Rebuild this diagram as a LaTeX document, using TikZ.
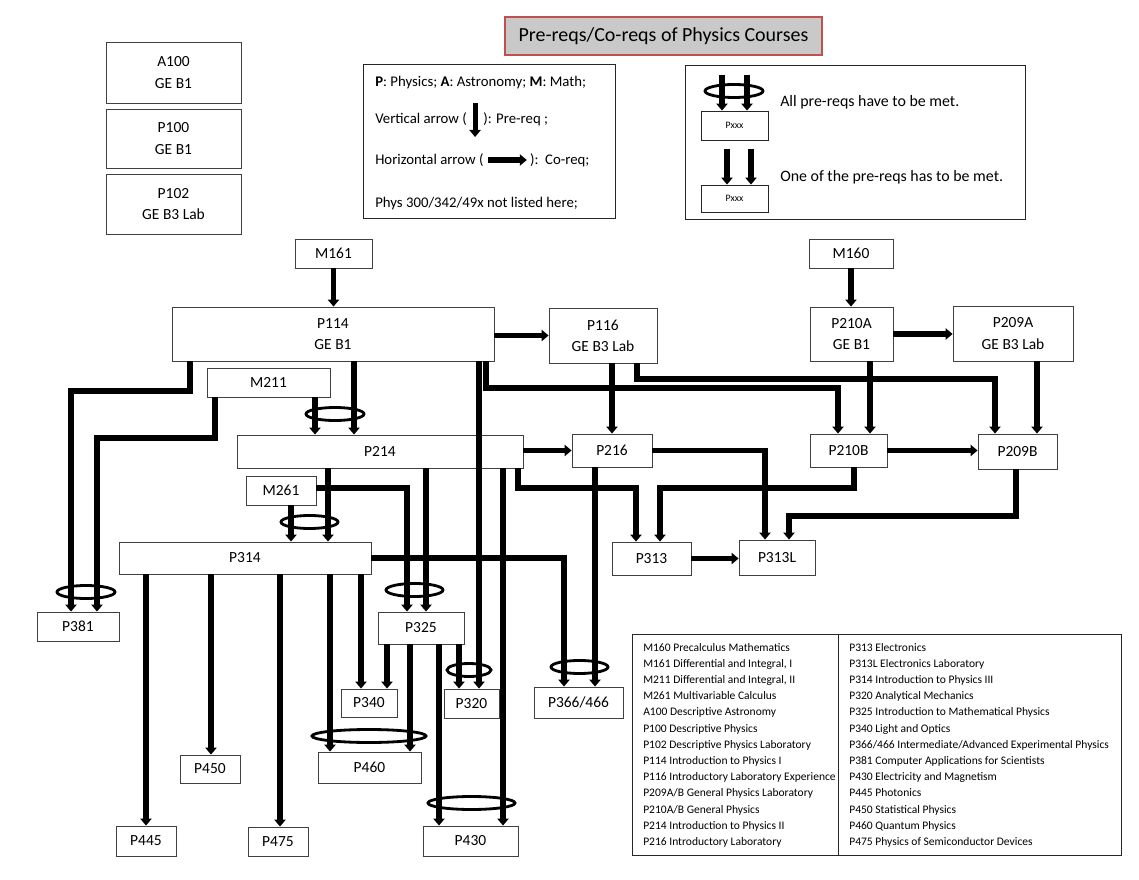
\documentclass[tikz,border=0pt]{standalone}
\usepackage{fontspec}
\setmainfont{Carlito}
\usepackage{tikz}
\usetikzlibrary{arrows.meta,positioning,fit,calc}

\definecolor{titlegray}{RGB}{201,201,201}
\definecolor{titlered}{RGB}{192,80,77}
\newcommand\coursefont{\fontsize{11}{15}\selectfont}
\newcommand\keyfont{\fontsize{10.5}{13}\selectfont}
\newcommand\rulefont{\fontsize{11.3}{13}\selectfont}
\newcommand\listfont{\fontsize{8.2}{11.5}\selectfont}
\newcommand\tinyfont{\fontsize{7}{8}\selectfont}

\begin{document}
\begin{tikzpicture}[
  x=0.025cm, y=-0.025cm,
  wh/.style 2 args={minimum width=#1*0.025cm, minimum height=#2*0.025cm},
  course/.style={draw=black!75, line width=0.6pt, fill=white, align=center,
    font=\coursefont, inner sep=0pt},
  keybox/.style={draw=black!85, line width=0.6pt, fill=white, inner sep=0pt},
  titlebox/.style={draw=titlered, line width=0.8pt, fill=titlegray,
    font=\fontsize{14.2}{16}\selectfont, inner sep=0pt},
  keytxt/.style={anchor=west, font=\keyfont, inner sep=0pt},
  listtxt/.style={anchor=north west, align=left, font=\listfont, inner sep=0pt},
  ar/.style={-{Triangle[length=5pt,width=8pt]}, line width=3.6pt},
  grp/.style={line width=2pt}
]
\fill[white] (0,0) rectangle (1139,880);
\useasboundingbox (0,0) rectangle (1139,880);

% title and keys
\node[titlebox, wh={317}{38}] (title) at (663.5,36) {Pre-reqs/Co-reqs of Physics Courses};

\node[keybox, fit={(363,64)(615,218)}] (keyleft) {};
\node[keytxt] (keyp) at (375,83) {\textbf{P}: Physics; \textbf{A}: Astronomy; \textbf{M}: Math;};
\node[keytxt] (keyv1) at (375,119) {Vertical arrow (};
\node[keytxt, right=0.4cm of keyv1] (keyv2) {): Pre-req ;};
\node[keytxt] (keyh1) at (375,160) {Horizontal arrow (};
\node[keytxt, right=1.15cm of keyh1] (keyh2) {):\ \ Co-req;};
\node[keytxt] (keyphys) at (375,204) {Phys 300/342/49x not listed here;};
\coordinate (vmid) at ($(keyv1.east)!0.5!(keyv2.west)$);
\draw[ar] ($(vmid)+(0,-16)$) -- ($(vmid)+(0,18)$);
\draw[ar] ($(keyh1.east)+(4,0)$) -- ($(keyh2.west)+(-3,0)$);

\node[keybox, fit={(685,65)(1025,219)}] (keyright) {};
\node[keybox, font=\tinyfont, wh={67}{29}] (pxall) at (734.5,125.5) {Pxxx};
\node[keybox, font=\tinyfont, wh={67}{27}] (pxone) at (734.5,198.5) {Pxxx};
\coordinate (alla) at (722,75);
\coordinate (allb) at (747,75);
\coordinate (onea) at (727,149);
\coordinate (oneb) at (751,149);
\draw[ar] (alla) -- (pxall.north -| alla);
\draw[ar] (allb) -- (pxall.north -| allb);
\draw[ar] (onea) -- (pxone.north -| onea);
\draw[ar] (oneb) -- (pxone.north -| oneb);
\draw[grp] (734,91) ellipse [x radius=29, y radius=6.5];
\node[keytxt, font=\rulefont] (alltxt) at (780,102) {All pre-reqs have to be met.};
\node[keytxt, font=\rulefont] (onetxt) at (780,177) {One of the pre-reqs has to be met.};

% courses
\node[course, wh={135}{61}] (a100) at (173.5,72.5) {A100\\GE B1};
\node[course, wh={135}{59}] (p100) at (173.5,138.5) {P100\\GE B1};
\node[course, wh={135}{60}] (p102) at (173.5,204) {P102\\GE B3 Lab};
\node[course, wh={77}{29}] (m161) at (333.5,253.5) {M161};
\node[course, wh={322}{54}] (p114) at (333,334) {P114\\GE B1};
\node[course, wh={108}{55}] (p116) at (603,335.5) {P116\\GE B3 Lab};
\node[course, wh={84}{29}] (m160) at (851,253.5) {M160};
\node[course, wh={83}{54}] (p210a) at (851.5,334) {P210A\\GE B1};
\node[course, wh={120}{55}] (p209a) at (1013,333.5) {P209A\\GE B3 Lab};
\node[course, wh={123}{29}] (m211) at (268.5,382.5) {M211};
\node[course, wh={286}{33}] (p214) at (380,451.5) {P214};
\node[course, wh={80}{33}] (p216) at (612,450.5) {P216};
\node[course, wh={77}{33}] (p210b) at (848.5,450.5) {P210B};
\node[course, wh={79}{35}] (p209b) at (1017.5,451.5) {P209B};
\node[course, wh={70}{29}] (m261) at (281,490.5) {M261};
\node[course, wh={252}{32}] (p314) at (245,558) {P314};
\node[course, wh={79}{33}] (p313) at (651.5,558.5) {P313};
\node[course, wh={76}{35}] (p313l) at (777,557.5) {P313L};
\node[course, wh={82}{29}] (p381) at (78,626.5) {P381};
\node[course, wh={86}{32}] (p325) at (421,628) {P325};
\node[course, wh={56}{28}] (p340) at (369,703) {P340};
\node[course, wh={55}{29}] (p320) at (471.5,703.5) {P320};
\node[course, wh={89}{31}] (p366) at (578.5,702.5) {P366/466};
\node[course, wh={60}{28}] (p450) at (210,769) {P450};
\node[course, wh={103}{31}] (p460) at (369.5,767.5) {P460};
\node[course, wh={60}{30}] (p445) at (146,841) {P445};
\node[course, wh={60}{29}] (p475) at (278,841.5) {P475};
\node[course, wh={95}{30}] (p430) at (470.5,841) {P430};

% course list
\node[keybox, fit={(632,634)(1121,855)}] (courselist) {};
\draw[line width=0.6pt, black!85] (courselist.north -| 838,0) -- (courselist.south -| 838,0);
\node[listtxt] (listleft) at (643,643) {M160 Precalculus Mathematics\\
  M161 Differential and Integral, I\\
  M211 Differential and Integral, II\\
  M261 Multivariable Calculus\\
  A100 Descriptive Astronomy\\
  P100 Descriptive Physics\\
  P102 Descriptive Physics Laboratory\\
  P114 Introduction to Physics I\\
  P116 Introductory Laboratory Experience\\
  P209A/B General Physics Laboratory\\
  P210A/B General Physics\\
  P214 Introduction to Physics II\\
  P216 Introductory Laboratory};
\node[listtxt] (listright) at (849,643) {P313 Electronics\\
  P313L Electronics Laboratory\\
  P314 Introduction to Physics III\\
  P320 Analytical Mechanics\\
  P325 Introduction to Mathematical Physics\\
  P340 Light and Optics\\
  P366/466 Intermediate/Advanced Experimental Physics\\
  P381 Computer Applications for Scientists\\
  P430 Electricity and Magnetism\\
  P445 Photonics\\
  P450 Statistical Physics\\
  P460 Quantum Physics\\
  P475 Physics of Semiconductor Devices};

% pre-reqs
\draw[ar] (m161.south) -- (m161.south |- p114.north);
\draw[ar] (m160.south) -- (m160.south |- p210a.north);
\draw[ar] (p114.south -| 190,0) |- (71,391) -- (p381.north -| 71,0);
\draw[ar] (m211.south -| 215,0) |- (97,438) -- (p381.north -| 97,0);
\draw[ar] (m211.south -| 315,0) -- (p214.north -| 315,0);
\draw[ar] (p114.south -| 354,0) -- (p214.north -| 354,0);
\draw[ar] (p114.south -| 479,0) -- (p320.north -| 479,0);
\draw[ar] (p114.south -| 486,0) |- (838,388) -- (p210b.north -| 838,0);
\draw[ar] (p116.south -| 612,0) -- (p216.north -| 612,0);
\draw[ar] (p116.south -| 637,0) |- (995,379) -- (p209b.north -| 995,0);
\draw[ar] (p210a.south -| 870,0) -- (p210b.north -| 870,0);
\draw[ar] (p209a.south -| 1037,0) -- (p209b.north -| 1037,0);
\draw[ar] (p216.east) -| (p313l.north -| 765,0);
\draw[ar] (p214.south -| 518,0) |- (636,488) -- (p313.north -| 636,0);
\draw[ar] (p210b.south -| 854,0) |- (660,488) -- (p313.north -| 660,0);
\draw[ar] (p209b.south -| 1016,0) |- (789,516) -- (p313l.north -| 789,0);
\draw[ar] (p216.south -| 595,0) -- (p366.north -| 595,0);
\draw[ar] (p214.south -| 426,0) -- (p325.north -| 426,0);
\draw[ar] (m261.east |- 0,488) -| (p325.north -| 407,0);
\draw[ar] (p214.south -| 503,0) -- (p430.north -| 503,0);
\draw[ar] (p314.east) -| (p366.north -| 564,0);
\draw[ar] (m261.south -| 291,0) -- (p314.north -| 291,0);
\draw[ar] (p214.south -| 328,0) -- (p314.north -| 328,0);
\draw[ar] (p314.south -| 146,0) -- (p445.north -| 146,0);
\draw[ar] (p314.south -| 211,0) -- (p450.north -| 211,0);
\draw[ar] (p314.south -| 280,0) -- (p475.north -| 280,0);
\draw[ar] (p314.south -| 330,0) -- (p460.north -| 330,0);
\draw[ar] (p314.south -| 361,0) -- (p340.north -| 361,0);
\draw[ar] (p325.south -| 387,0) -- (p340.north -| 387,0);
\draw[ar] (p325.south -| 410,0) -- (p460.north -| 410,0);
\draw[ar] (p325.south -| 439,0) -- (p430.north -| 439,0);
\draw[ar] (p325.south -| 459,0) -- (p320.north -| 459,0);

% co-reqs
\draw[ar] (p116.west -| p114.east) -- (p116.west);
\draw[ar] (p210a.east) -- (p210a.east -| p209a.west);
\draw[ar] (p216.west -| p214.east) -- (p216.west);
\draw[ar] (p210b.east) -- (p210b.east -| p209b.west);
\draw[ar] (p313.east) -- (p313.east -| p313l.west);

% all-of groups
\draw[grp] (335,414) ellipse [x radius=29, y radius=6.5];
\draw[grp] (86,592) ellipse [x radius=29, y radius=6.5];
\draw[grp] (309.5,522) ellipse [x radius=28.5, y radius=6.5];
\draw[grp] (414.5,590) ellipse [x radius=28.5, y radius=6.5];
\draw[grp] (579.5,667) ellipse [x radius=28.5, y radius=6.5];
\draw[grp] (469,670) ellipse [x radius=22, y radius=6.5];
\draw[grp] (369,736) ellipse [x radius=57, y radius=6.5];
\draw[grp] (471.5,803) ellipse [x radius=43.5, y radius=6.5];
\end{tikzpicture}
\end{document}
